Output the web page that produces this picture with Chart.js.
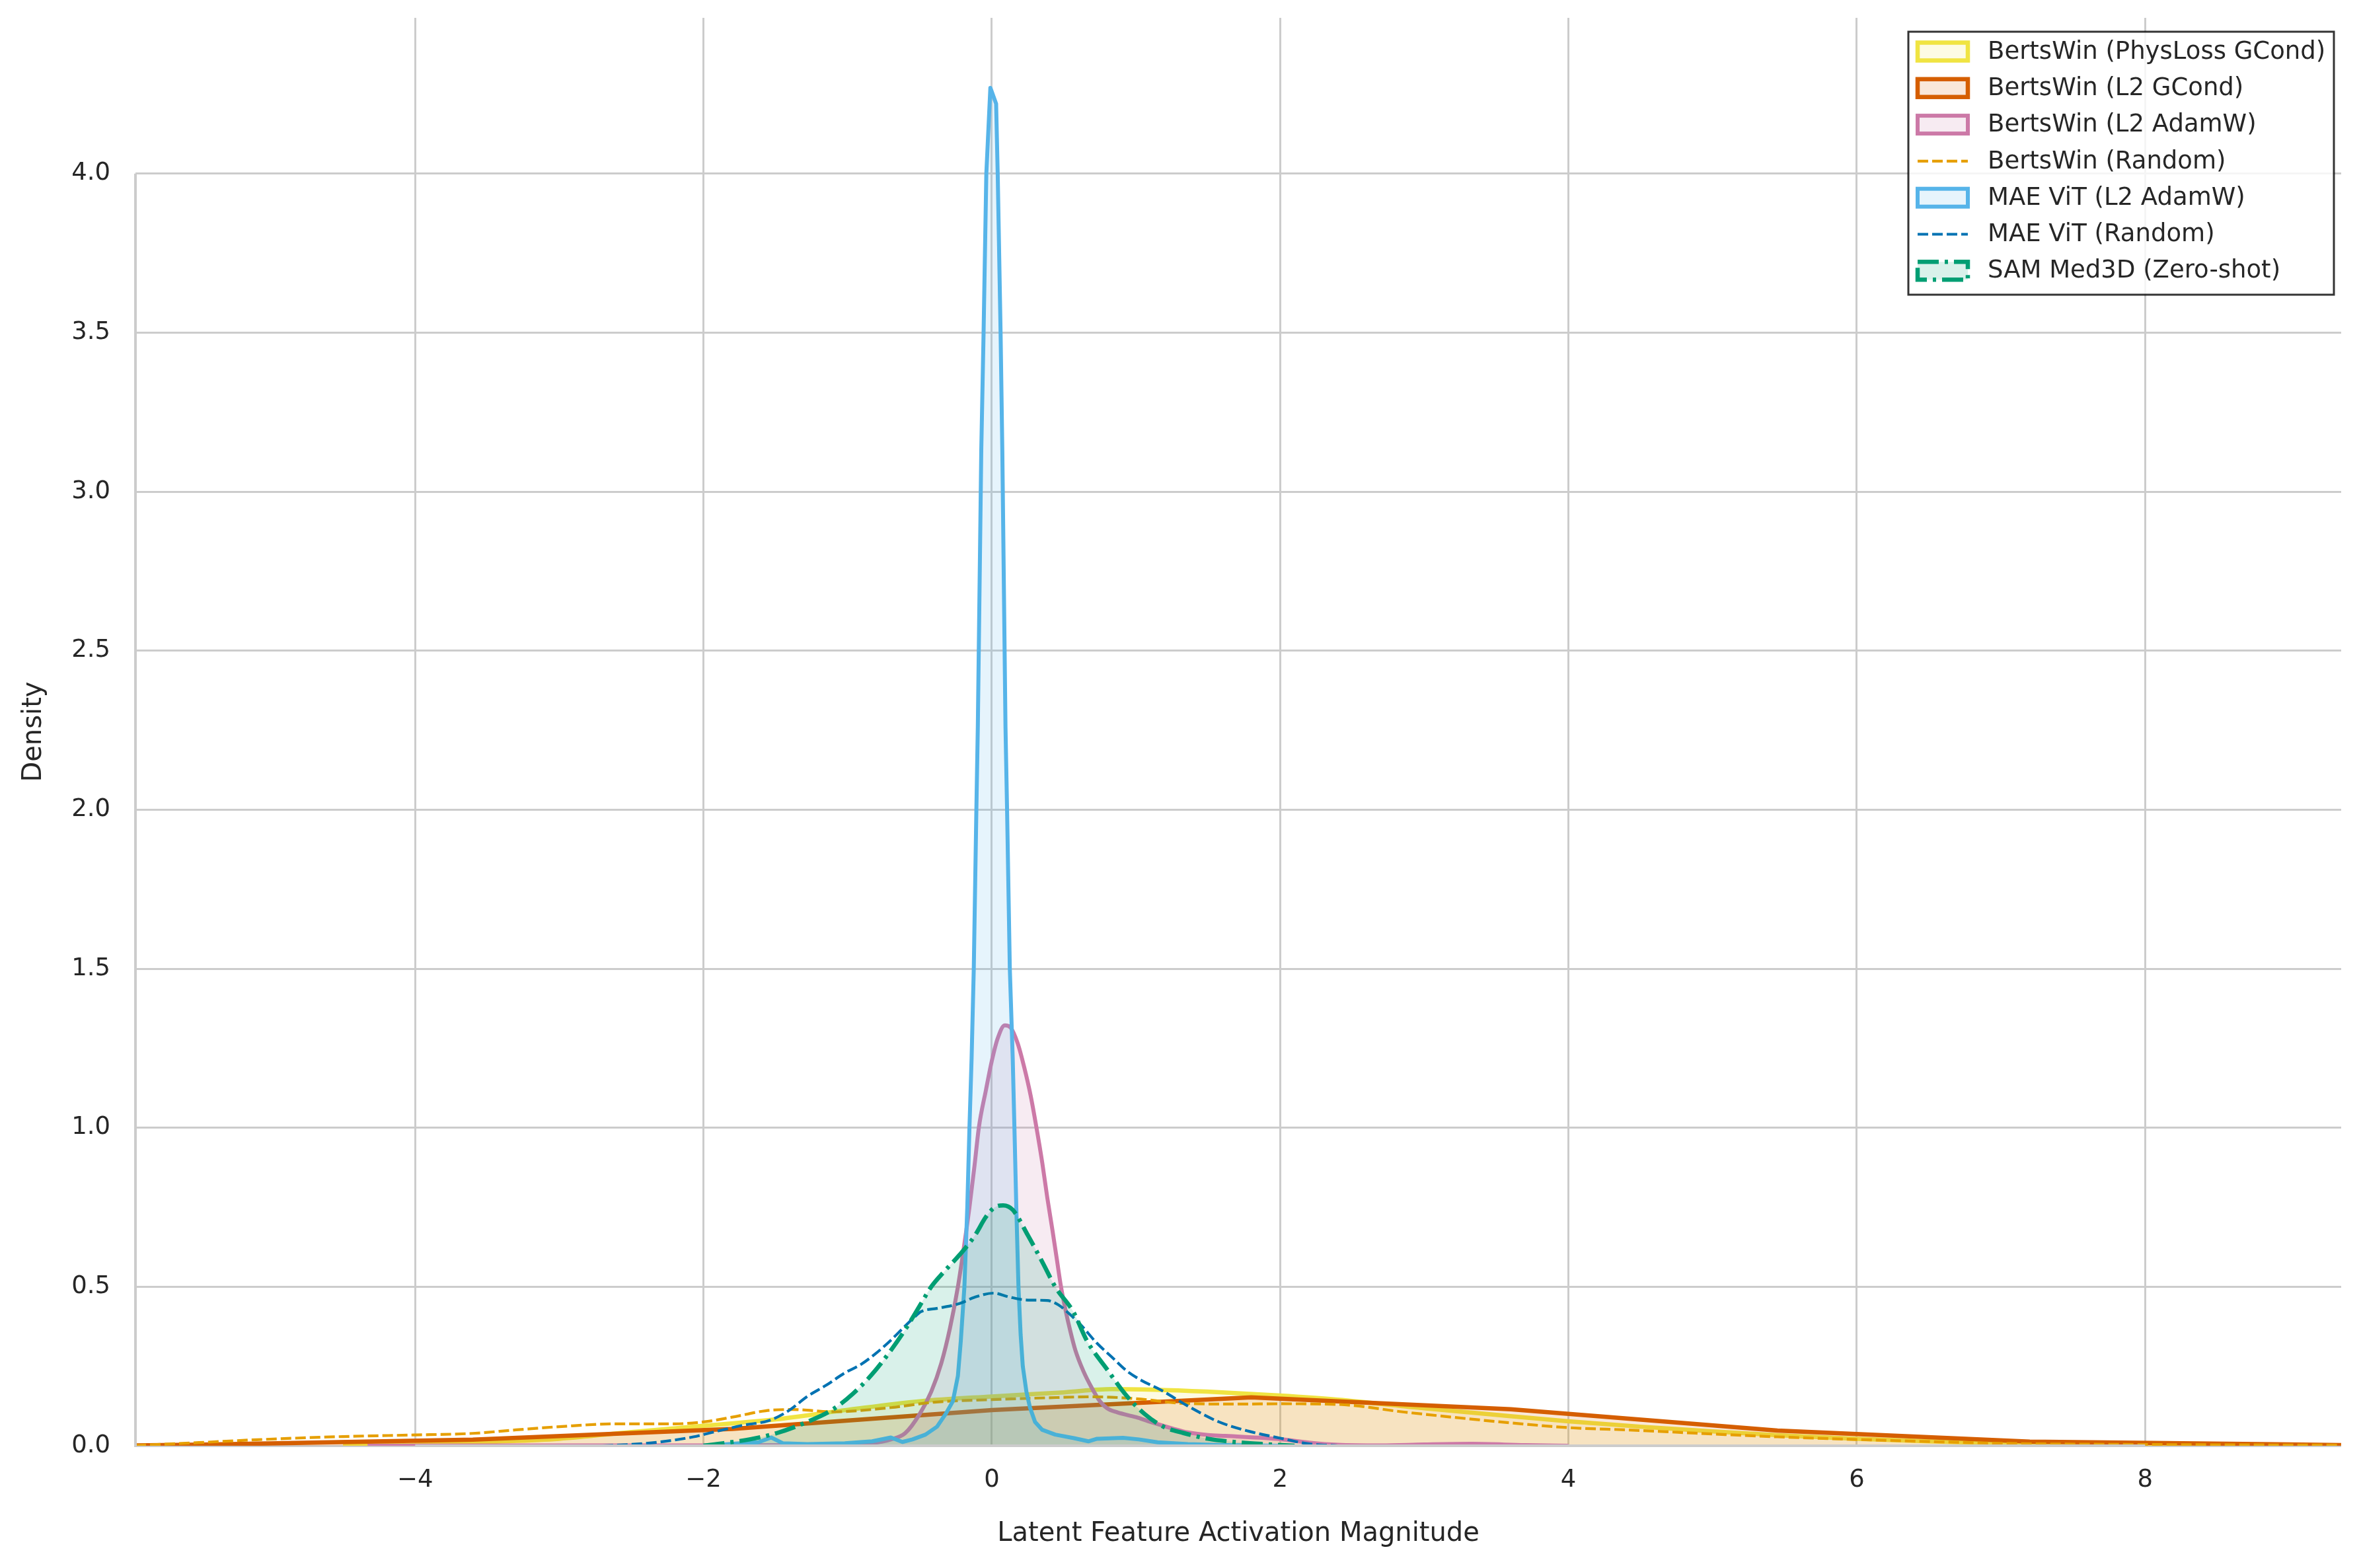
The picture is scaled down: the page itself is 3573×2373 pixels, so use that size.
<!DOCTYPE html>
<html>
<head>
<meta charset="utf-8">
<script src="https://cdn.jsdelivr.net/npm/chart.js@4.4.1/dist/chart.umd.min.js"></script>
<style>
  html, body { margin: 0; padding: 0; background: #fff; }
</style>
</head>
<body>
<canvas id="kde" width="3573" height="2373"></canvas>
<script>
// tick labels
const xTicks = [-4, -2, 0, 2, 4, 6, 8];
const yTicks = [0, 0.5, 1, 1.5, 2, 2.5, 3, 3.5, 4];

// series names, in plotting order
const seriesLabels = [
  'BertsWin (PhysLoss GCond)',
  'BertsWin (L2 GCond)',
  'BertsWin (L2 AdamW)',
  'BertsWin (Random)',
  'MAE ViT (L2 AdamW)',
  'MAE ViT (Random)',
  'SAM Med3D (Zero-shot)'
];

// density curves
const physX = [-4.5, -4, -3.5, -3, -2.5, -2, -1.5, -1, -0.5, 0, 0.5, 0.83, 1.2, 1.6, 2, 2.4, 3, 3.5, 4, 4.5, 5, 5.45, 6, 6.5, 7, 7.5, 8, 8.5];
const physY = [0, 0.003, 0.012, 0.022, 0.043, 0.063, 0.083, 0.113, 0.14, 0.155, 0.168, 0.178, 0.175, 0.168, 0.158, 0.145, 0.118, 0.097, 0.077, 0.06, 0.045, 0.033, 0.022, 0.014, 0.008, 0.004, 0.002, 0];

const gcondX = [-5.94, -5.4, -3.6, -1.8, 0, 1.8, 3.6, 5.45, 7.2, 9.0, 9.36];
const gcondY = [0.001, 0.004, 0.019, 0.053, 0.112, 0.152, 0.115, 0.048, 0.013, 0.004, 0.002];

const adamX = [-4.33, -3, -2, -1.2, -1.0, -0.83, -0.7, -0.6, -0.5, -0.42, -0.35, -0.29, -0.235, -0.195, -0.155, -0.12, -0.09, -0.04, 0.0, 0.04, 0.09, 0.13, 0.18, 0.225, 0.27, 0.31, 0.35, 0.385, 0.42, 0.45, 0.48, 0.51, 0.545, 0.58, 0.635, 0.69, 0.75, 0.8, 0.87, 1.0, 1.1, 1.25, 1.36, 1.5, 1.62, 2.0, 2.2, 2.4, 2.7, 3.0, 3.33, 3.7, 4.0];
const adamY = [0, 0.001, 0.001, 0.002, 0.003, 0.008, 0.02, 0.04, 0.1, 0.17, 0.26, 0.37, 0.5, 0.62, 0.75, 0.88, 1.0, 1.12, 1.21, 1.28, 1.322, 1.315, 1.265, 1.19, 1.1, 1.0, 0.89, 0.78, 0.68, 0.59, 0.5, 0.43, 0.36, 0.3, 0.235, 0.185, 0.14, 0.118, 0.105, 0.09, 0.075, 0.055, 0.042, 0.034, 0.031, 0.021, 0.01, 0.003, 0.001, 0.004, 0.006, 0.002, 0];

const randX = [-5.94, -5.5, -5.1, -4.5, -4, -3.6, -3.3, -3, -2.6, -2.2, -2, -1.8, -1.57, -1.38, -1.1, -0.7, -0.4, 0, 0.4, 0.7, 1.0, 1.34, 1.7, 2.0, 2.4, 2.86, 3.3, 3.6, 4, 4.4, 5, 5.45, 6.2, 7.1, 8, 9.36];
const randY = [0.001, 0.01, 0.019, 0.029, 0.034, 0.039, 0.05, 0.06, 0.069, 0.069, 0.075, 0.09, 0.11, 0.114, 0.107, 0.12, 0.137, 0.145, 0.151, 0.154, 0.148, 0.133, 0.131, 0.132, 0.13, 0.106, 0.085, 0.072, 0.057, 0.05, 0.037, 0.028, 0.017, 0.007, 0.004, 0.002];

const maeX = [-2.0, -1.8, -1.62, -1.53, -1.45, -1.28, -1.02, -0.83, -0.7, -0.62, -0.55, -0.46, -0.38, -0.32, -0.27, -0.235, -0.215, -0.19, -0.17, -0.155, -0.14, -0.125, -0.107, -0.097, -0.073, -0.057, -0.038, -0.01, 0.03, 0.041, 0.061, 0.073, 0.095, 0.106, 0.125, 0.145, 0.157, 0.17, 0.185, 0.2, 0.215, 0.24, 0.265, 0.3, 0.35, 0.44, 0.57, 0.67, 0.73, 0.91, 1.02, 1.15, 1.36, 1.6, 2.0];
const maeY = [0, 0.006, 0.011, 0.026, 0.008, 0.005, 0.008, 0.014, 0.026, 0.012, 0.02, 0.035, 0.06, 0.1, 0.14, 0.22, 0.33, 0.5, 0.75, 1.0, 1.22, 1.5, 2.0, 2.26, 3.13, 3.5, 4.0, 4.27, 4.22, 4.0, 3.5, 3.13, 2.26, 2.0, 1.5, 1.22, 1.0, 0.75, 0.5, 0.35, 0.25, 0.17, 0.12, 0.075, 0.05, 0.035, 0.024, 0.014, 0.022, 0.025, 0.02, 0.011, 0.005, 0.002, 0];

const maeRandX = [-2.7, -2.55, -2.3, -2.07, -1.94, -1.73, -1.54, -1.41, -1.28, -1.15, -1.016, -0.91, -0.805, -0.7, -0.62, -0.54, -0.49, -0.38, -0.224, -0.119, 0.013, 0.119, 0.25, 0.383, 0.462, 0.54, 0.62, 0.726, 0.83, 0.937, 1.04, 1.174, 1.36, 1.57, 1.78, 2.0, 2.2, 2.4];
const maeRandY = [0, 0.003, 0.012, 0.028, 0.042, 0.064, 0.08, 0.11, 0.155, 0.19, 0.23, 0.255, 0.29, 0.332, 0.368, 0.403, 0.422, 0.432, 0.447, 0.467, 0.48, 0.468, 0.458, 0.457, 0.443, 0.414, 0.379, 0.324, 0.28, 0.235, 0.205, 0.175, 0.125, 0.076, 0.046, 0.024, 0.006, 0];

const samX = [-2.0, -1.86, -1.68, -1.49, -1.28, -1.1, -0.96, -0.83, -0.7, -0.594, -0.5, -0.42, -0.33, -0.224, -0.119, -0.04, 0.02, 0.079, 0.145, 0.25, 0.356, 0.44, 0.567, 0.66, 0.8, 0.93, 1.06, 1.19, 1.33, 1.5, 1.68, 1.89, 2.1];
const samY = [0, 0.008, 0.02, 0.04, 0.075, 0.115, 0.165, 0.225, 0.3, 0.37, 0.44, 0.5, 0.548, 0.6, 0.66, 0.72, 0.75, 0.756, 0.742, 0.662, 0.573, 0.5, 0.42, 0.33, 0.24, 0.16, 0.1, 0.06, 0.04, 0.022, 0.012, 0.005, 0];

const pts = (xs, ys) => xs.map((x, i) => ({ x: x, y: ys[i] }));

const textColor = '#262626';
const gridColor = '#cccccc';
const font = 'DejaVu Sans';

function rgba(hex, a) {
  const n = parseInt(hex.slice(1), 16);
  return 'rgba(' + (n >> 16) + ',' + ((n >> 8) & 255) + ',' + (n & 255) + ',' + a + ')';
}

const styles = [
  { color: '#F0E442', width: 6.5, dash: [], fill: true, smooth: true },
  { color: '#D55E00', width: 6.5, dash: [], fill: true, smooth: false },
  { color: '#CC79A7', width: 6, dash: [], fill: true, smooth: true },
  { color: '#E69F00', width: 4.2, dash: [16, 6], fill: false, smooth: true },
  { color: '#56B4E9', width: 6, dash: [], fill: true, smooth: false },
  { color: '#0072B2', width: 4.2, dash: [16, 6], fill: false, smooth: true },
  { color: '#009E73', width: 6.5, dash: [32, 9, 5, 9], fill: true, smooth: true }
];

const series = [
  pts(physX, physY), pts(gcondX, gcondY), pts(adamX, adamY), pts(randX, randY),
  pts(maeX, maeY), pts(maeRandX, maeRandY), pts(samX, samY)
];

const datasets = series.map((data, i) => ({
  label: seriesLabels[i],
  data: data,
  borderColor: styles[i].color,
  borderWidth: styles[i].width,
  borderDash: styles[i].dash,
  borderJoinStyle: 'round',
  backgroundColor: rgba(styles[i].color, 0.15),
  fill: styles[i].fill ? 'origin' : false,
  pointRadius: 0,
  tension: 0,
  cubicInterpolationMode: styles[i].smooth ? 'monotone' : 'default',
  order: series.length - i
}));

const fmt = v => (v < 0 ? '\u2212' + Math.abs(v) : String(v));

// trimmed light grey spines, drawn over the curves like matplotlib does
const spines = {
  id: 'spines',
  afterDatasetsDraw(chart) {
    const { ctx, scales: { x, y } } = chart;
    const y0 = y.getPixelForValue(0);
    ctx.save();
    ctx.strokeStyle = gridColor;
    ctx.lineWidth = 4;
    ctx.beginPath();
    ctx.moveTo(x.getPixelForValue(-4), y0);
    ctx.lineTo(x.getPixelForValue(8), y0);
    ctx.moveTo(x.left, y0 + 2);
    ctx.lineTo(x.left, y.getPixelForValue(4));
    ctx.stroke();
    ctx.restore();
  }
};

// legend box in the upper right corner of the plot
const boxLegend = {
  id: 'boxLegend',
  afterDraw(chart) {
    const ctx = chart.ctx;
    const left = 2888, top = 48, right = 3532, bottom = 446;
    ctx.save();
    ctx.fillStyle = 'rgba(255,255,255,0.8)';
    ctx.fillRect(left, top, right - left, bottom - top);
    ctx.strokeStyle = 'rgba(0,0,0,0.8)';
    ctx.lineWidth = 3;
    ctx.strokeRect(left, top, right - left, bottom - top);
    chart.data.datasets.forEach((ds, i) => {
      const cy = 78 + i * 55.3;
      const sx = 2902, sw = 76, sh = 27;
      ctx.setLineDash(ds.borderDash);
      ctx.lineDashOffset = 0;
      ctx.strokeStyle = ds.borderColor;
      ctx.lineWidth = ds.borderWidth;
      if (ds.fill) {
        ctx.fillStyle = ds.backgroundColor;
        ctx.fillRect(sx, cy - sh / 2, sw, sh);
        ctx.strokeRect(sx, cy - sh / 2, sw, sh);
      } else {
        ctx.beginPath();
        ctx.moveTo(sx, cy);
        ctx.lineTo(sx + sw, cy);
        ctx.stroke();
      }
      ctx.setLineDash([]);
      ctx.fillStyle = textColor;
      ctx.font = '37px "' + font + '"';
      ctx.textBaseline = 'middle';
      ctx.textAlign = 'left';
      ctx.fillText(ds.label, 3008, cy + 1);
    });
    ctx.restore();
  }
};

new Chart(document.getElementById('kde'), {
  type: 'line',
  data: { datasets: datasets },
  options: {
    responsive: false,
    animation: false,
    devicePixelRatio: 1,
    layout: { padding: { top: 27, right: 30, left: 0, bottom: 0 } },
    plugins: {
      legend: { display: false },
      tooltip: { enabled: false }
    },
    scales: {
      x: {
        type: 'linear',
        min: -5.94,
        max: 9.36,
        afterBuildTicks: axis => { axis.ticks = xTicks.map(v => ({ value: v })); },
        afterFit: axis => { axis.height = 185; axis.paddingLeft = 0; axis.paddingRight = 0; },
        ticks: {
          callback: v => fmt(v),
          color: textColor,
          font: { family: font, size: 37 },
          padding: 30,
          maxRotation: 0
        },
        grid: { color: gridColor, lineWidth: 3, drawTicks: false },
        border: { display: false },
        title: {
          display: true,
          text: 'Latent Feature Activation Magnitude',
          color: textColor,
          font: { family: font, size: 40 },
          padding: { top: 0, bottom: 27 }
        }
      },
      y: {
        min: 0,
        max: 4.49,
        afterBuildTicks: axis => { axis.ticks = yTicks.map(v => ({ value: v })); },
        afterFit: axis => { axis.width = 205; axis.paddingTop = 0; axis.paddingBottom = 0; },
        ticks: {
          callback: v => v.toFixed(1),
          color: textColor,
          font: { family: font, size: 37 },
          padding: 38
        },
        grid: { color: gridColor, lineWidth: 3, drawTicks: false },
        border: { display: false },
        title: {
          display: true,
          text: 'Density',
          color: textColor,
          font: { family: font, size: 40 },
          padding: { top: 28, bottom: 0 }
        }
      }
    }
  },
  plugins: [spines, boxLegend]
});
</script>
</body>
</html>
